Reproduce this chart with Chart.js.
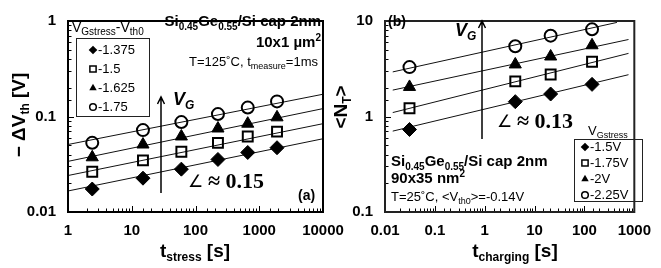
<!DOCTYPE html>
<html>
<head>
<meta charset="utf-8">
<script src="https://cdn.jsdelivr.net/npm/chart.js@4.4.0/dist/chart.umd.min.js"></script>
<style>
  html, body { margin: 0; padding: 0; background: #fff; }
  #wrap { position: relative; width: 661px; height: 268px; }
  canvas { position: absolute; left: 0; top: 0; }
</style>
</head>
<body>
<div id="wrap">
  <canvas id="chartA" width="661" height="268"></canvas>
  <canvas id="chartB" width="661" height="268"></canvas>
</div>
<script>
// ---- panel (a): threshold shift vs stress time ----
const stressTimes = [2.4, 15, 60, 225, 660, 1900];
const dvth1375 = [0.0174, 0.0226, 0.0281, 0.0355, 0.042, 0.0471];
const dvth150 = [0.0264, 0.0347, 0.0427, 0.053, 0.0618, 0.0694];
const dvth1625 = [0.0374, 0.0509, 0.0618, 0.0749, 0.0841, 0.098];
const dvth175 = [0.053, 0.072, 0.0874, 0.106, 0.124, 0.144];
// power-law fit lines, values read at both ends
const fitTimesA = [1, 10000];
const fitA1375 = [0.0166, 0.0585];
const fitA150 = [0.0241, 0.0841];
const fitA1625 = [0.0339, 0.121];
const fitA175 = [0.0509, 0.171];
const legendA = ['-1.375', '-1.5', '-1.625', '-1.75'];
const xTicksA = [1, 10, 100, 1000, 10000];
const xLabelsA = ['1', '10', '100', '1000', '10000'];
const yTicksA = [0.01, 0.1, 1];
const yLabelsA = ['0.01', '0.1', '1'];

// ---- panel (b): trapped charges vs charging time ----
const chargeTimes = [0.031, 4.1, 21, 142];
const nt150 = [0.731, 1.43, 1.72, 2.17];
const nt175 = [1.22, 2.33, 2.75, 3.74];
const nt200 = [2.04, 3.51, 4.25, 5.57];
const nt225 = [3.29, 5.44, 7.02, 8.18];
const fitTimesB = [0.0143, 765];
const fitTimesB225 = [0.0143, 448];
const fitB150 = [0.703, 2.74];
const fitB175 = [1.1, 4.58];
const fitB200 = [1.89, 6.4];
const fitB225 = [2.93, 9.66];
const legendB = ['-1.5V', '-1.75V', '-2V', '-2.25V'];
const xTicksB = [0.01, 0.1, 1, 10, 100, 1000];
const xLabelsB = ['0.01', '0.1', '1', '10', '100', '1000'];
const yTicksB = [0.1, 1, 10];
const yLabelsB = ['0.1', '1', '10'];

const FONT = '"Liberation Sans", Arial, sans-serif';
const SERIF = '"Liberation Serif", "Times New Roman", serif';
const markers = [
  { style: 'rectRot', r: 7, filled: true },
  { style: 'rect', r: 7, filled: false },
  { style: 'triangle', r: 7, filled: true },
  { style: 'circle', r: 6, filled: false }
];

function pts(xs, ys) { return xs.map((x, i) => ({ x: x, y: ys[i] })); }

function scatterSet(xs, ys, m) {
  return {
    data: pts(xs, ys), showLine: false, order: 1,
    pointStyle: m.style, pointRadius: m.r, pointHoverRadius: m.r,
    pointBackgroundColor: m.filled ? '#000' : 'rgba(0,0,0,0)',
    pointBorderColor: '#000', pointBorderWidth: m.filled ? 1 : 2
  };
}

function fitSet(xs, ys) {
  return { data: pts(xs, ys), showLine: true, order: 2, borderColor: '#111', borderWidth: 1, pointRadius: 0 };
}

function isDecade(v) { return Math.abs(Math.log10(v) - Math.round(Math.log10(v))) < 1e-6; }

function decadeLabel(vals, labels) {
  return v => {
    const i = vals.findIndex(t => Math.abs(Math.log10(v / t)) < 1e-6);
    return i < 0 ? '' : labels[i];
  };
}

// text with sub/superscripts; parts = [[text, '' | 'sub' | 'sup'], ...]
function rich(ctx, parts, x, y, o) {
  const size = o.size, fam = o.family || FONT, wt = o.weight || 'normal', st = o.style || 'normal';
  const subSize = o.sub || Math.round(size * 0.64);
  const fontFor = k => `${st} ${wt} ${k ? subSize : size}px ${fam}`;
  let w = 0;
  parts.forEach(p => { ctx.font = fontFor(p[1]); w += ctx.measureText(p[0]).width; });
  let cx = o.align === 'right' ? x - w : o.align === 'center' ? x - w / 2 : x;
  ctx.textBaseline = 'middle';
  ctx.textAlign = 'left';
  ctx.fillStyle = '#000';
  parts.forEach(p => {
    ctx.font = fontFor(p[1]);
    const dy = p[1] === 'sub' ? size * 0.32 : p[1] === 'sup' ? -size * 0.3 : 0;
    ctx.fillText(p[0], cx, y + dy);
    cx += ctx.measureText(p[0]).width;
  });
}

function richRotated(ctx, parts, x, y, o) {
  ctx.save();
  ctx.translate(x, y);
  ctx.rotate(-Math.PI / 2);
  rich(ctx, parts, 0, 0, Object.assign({ align: 'center' }, o));
  ctx.restore();
}

// "angle ~ slope" note: thin angle sign, then bold serif text
function slopeNote(ctx, text, x, y) {
  ctx.save();
  ctx.fillStyle = '#000';
  ctx.textBaseline = 'middle';
  ctx.textAlign = 'left';
  ctx.font = 'normal 17px "DejaVu Sans", sans-serif';
  ctx.fillText('\u2220', x, y + 1);
  ctx.restore();
  rich(ctx, [['\u2248 ' + text, '']], x + 20, y, { size: 22, weight: 'bold', family: SERIF });
}

function marker(ctx, style, x, y, r, filled) {
  ctx.beginPath();
  if (style === 'rectRot') {
    ctx.moveTo(x, y - r); ctx.lineTo(x + r, y); ctx.lineTo(x, y + r); ctx.lineTo(x - r, y); ctx.closePath();
  } else if (style === 'rect') {
    const s = r * Math.SQRT1_2;
    ctx.rect(x - s, y - s, 2 * s, 2 * s);
  } else if (style === 'triangle') {
    ctx.moveTo(x, y - r); ctx.lineTo(x + r * 0.866, y + r / 2); ctx.lineTo(x - r * 0.866, y + r / 2); ctx.closePath();
  } else {
    ctx.arc(x, y, r, 0, Math.PI * 2);
  }
  if (filled) ctx.fill(); else ctx.stroke();
}

function arrowUp(ctx, x, y0, y1) {
  ctx.save();
  ctx.strokeStyle = '#000';
  ctx.lineWidth = 1.5;
  ctx.beginPath();
  ctx.moveTo(x, y0); ctx.lineTo(x, y1);
  ctx.moveTo(x - 3.5, y1 + 7); ctx.lineTo(x, y1); ctx.lineTo(x + 3.5, y1 + 7);
  ctx.stroke();
  ctx.restore();
}

function legendBox(ctx, box, rows, labels, mx, tx, size) {
  ctx.save();
  ctx.strokeStyle = '#222';
  ctx.lineWidth = 1;
  ctx.strokeRect(box[0] + 0.5, box[1] + 0.5, box[2], box[3]);
  ctx.fillStyle = '#000';
  ctx.strokeStyle = '#000';
  ctx.lineWidth = 1.5;
  markers.forEach((m, i) => {
    const r = m.style === 'circle' ? 3.3 : m.style === 'rect' ? 4.4 : 4.3;
    marker(ctx, m.style, mx, rows[i], r, m.filled);
    ctx.fillStyle = '#000';
  });
  ctx.restore();
  labels.forEach((t, i) => rich(ctx, [[t, '']], tx, rows[i] + 0.5, { size: size }));
}

// frame and inward minor/major tick marks
const framePlugin = {
  id: 'frame',
  afterDatasetsDraw(chart) {
    const { ctx, chartArea: a } = chart;
    const xs = chart.scales.x, ys = chart.scales.y;
    ctx.save();
    ctx.strokeStyle = '#000';
    ctx.lineWidth = 1;
    ctx.beginPath();
    xs.ticks.forEach(t => {
      const px = Math.round(xs.getPixelForValue(t.value)) + 0.5;
      const len = isDecade(t.value) ? 6 : 3.5;
      ctx.moveTo(px, a.bottom); ctx.lineTo(px, a.bottom - len);
    });
    ys.ticks.forEach(t => {
      const py = Math.round(ys.getPixelForValue(t.value)) + 0.5;
      const len = isDecade(t.value) ? 6 : 3.5;
      ctx.moveTo(a.left, py); ctx.lineTo(a.left + len, py);
    });
    ctx.stroke();
    ctx.lineWidth = 2;
    ctx.strokeStyle = chart.canvas.id === 'chartA' ? '#000' : '#222';
    ctx.strokeRect(a.left, a.top, a.right - a.left, a.bottom - a.top);
    ctx.restore();
  }
};

const notesA = {
  id: 'notesA',
  afterDraw(chart) {
    const ctx = chart.ctx;
    richRotated(ctx, [['\u2212 \u0394V', ''], ['th', 'sub'], [' [V]', '']], 20, 115, { size: 19, weight: 'bold', sub: 12 });
    rich(ctx, [['t', ''], ['stress', 'sub'], [' [s]', '']], 195, 252, { size: 19, weight: 'bold', sub: 12, align: 'center' });
    rich(ctx, [['Si', ''], ['0.45', 'sub'], ['Ge', ''], ['0.55', 'sub'], ['/Si cap 2nm', '']], 321, 22, { size: 15, weight: 'bold', sub: 10, align: 'right' });
    rich(ctx, [['10x1 \u00b5m', ''], ['2', 'sup']], 321, 43, { size: 15, weight: 'bold', sub: 10, align: 'right' });
    rich(ctx, [['T=125\u02daC, t', ''], ['measure', 'sub'], ['=1ms', '']], 318, 62, { size: 13, sub: 9, align: 'right' });
    rich(ctx, [['V', ''], ['Gstress', 'sub'], ['-V', ''], ['th0', 'sub']], 72, 28, { size: 14, sub: 10 });
    legendBox(ctx, [76, 38, 73, 78], [50, 69, 88, 107], legendA, 93, 98, 13);
    arrowUp(ctx, 161, 193, 97);
    rich(ctx, [['V', ''], ['G', 'sub']], 173, 100, { size: 18, weight: 'bold', style: 'italic', sub: 12 });
    slopeNote(ctx, '0.15', 188, 182);
    rich(ctx, [['(a)', '']], 298, 196, { size: 14, weight: 'bold' });
  }
};

const notesB = {
  id: 'notesB',
  afterDraw(chart) {
    const ctx = chart.ctx;
    richRotated(ctx, [['<N', ''], ['T', 'sub'], ['>', '']], 342, 107, { size: 19, weight: 'bold', sub: 12 });
    rich(ctx, [['t', ''], ['charging', 'sub'], [' [s]', '']], 515, 252, { size: 19, weight: 'bold', sub: 12, align: 'center' });
    rich(ctx, [['(b)', '']], 388, 22, { size: 14, weight: 'bold' });
    arrowUp(ctx, 482, 139, 21);
    rich(ctx, [['V', ''], ['G', 'sub']], 455, 31, { size: 18, weight: 'bold', style: 'italic', sub: 12 });
    slopeNote(ctx, '0.13', 497, 122);
    rich(ctx, [['V', ''], ['Gstress', 'sub']], 588, 131, { size: 13, sub: 9 });
    legendBox(ctx, [574, 139, 68, 62], [147, 163, 179, 195], legendB, 585, 590, 13);
    rich(ctx, [['Si', ''], ['0.45', 'sub'], ['Ge', ''], ['0.55', 'sub'], ['/Si cap 2nm', '']], 391, 162, { size: 15, weight: 'bold', sub: 10 });
    rich(ctx, [['90x35 nm', ''], ['2', 'sup']], 391, 179, { size: 15, weight: 'bold', sub: 10 });
    rich(ctx, [['T=25\u02daC, <V', ''], ['th0', 'sub'], ['>=-0.14V', '']], 391, 197, { size: 13, sub: 9 });
  }
};

function axis(min, max, vals, labels, isX, size) {
  return {
    type: 'logarithmic', min: min, max: max,
    grid: { display: false, drawTicks: false },
    border: { display: false },
    ticks: {
      autoSkip: false, maxRotation: 0, minRotation: 0,
      padding: isX ? 10 : 12,
      color: '#000',
      font: { family: FONT, size: 15, weight: 'bold' },
      callback: decadeLabel(vals, labels)
    },
    afterFit: s => { if (isX) s.height = size; else s.width = size; }
  };
}

function makeChart(id, datasets, pad, xAxis, yAxis, notes) {
  return new Chart(document.getElementById(id), {
    type: 'scatter',
    data: { datasets: datasets },
    options: {
      responsive: false, animation: false, devicePixelRatio: 1,
      layout: { padding: pad, autoPadding: false },
      scales: { x: xAxis, y: yAxis },
      plugins: { legend: { display: false }, tooltip: { enabled: false } }
    },
    plugins: [framePlugin, notes]
  });
}

makeChart('chartA', [
  fitSet(fitTimesA, fitA1375), fitSet(fitTimesA, fitA150), fitSet(fitTimesA, fitA1625), fitSet(fitTimesA, fitA175),
  scatterSet(stressTimes, dvth1375, markers[0]),
  scatterSet(stressTimes, dvth150, markers[1]),
  scatterSet(stressTimes, dvth1625, markers[2]),
  scatterSet(stressTimes, dvth175, markers[3])
], { left: 0, right: 338, top: 13, bottom: 0 },
  axis(1, 10000, xTicksA, xLabelsA, true, 56),
  axis(0.01, 1, yTicksA, yLabelsA, false, 68), notesA);

makeChart('chartB', [
  fitSet(fitTimesB, fitB150), fitSet(fitTimesB, fitB175), fitSet(fitTimesB, fitB200), fitSet(fitTimesB225, fitB225),
  scatterSet(chargeTimes, nt150, markers[0]),
  scatterSet(chargeTimes, nt175, markers[1]),
  scatterSet(chargeTimes, nt200, markers[2]),
  scatterSet(chargeTimes, nt225, markers[3])
], { left: 330, right: 18, top: 13, bottom: 0 },
  axis(0.01, 1000, xTicksB, xLabelsB, true, 56),
  axis(0.1, 10, yTicksB, yLabelsB, false, 55), notesB);
</script>
</body>
</html>
